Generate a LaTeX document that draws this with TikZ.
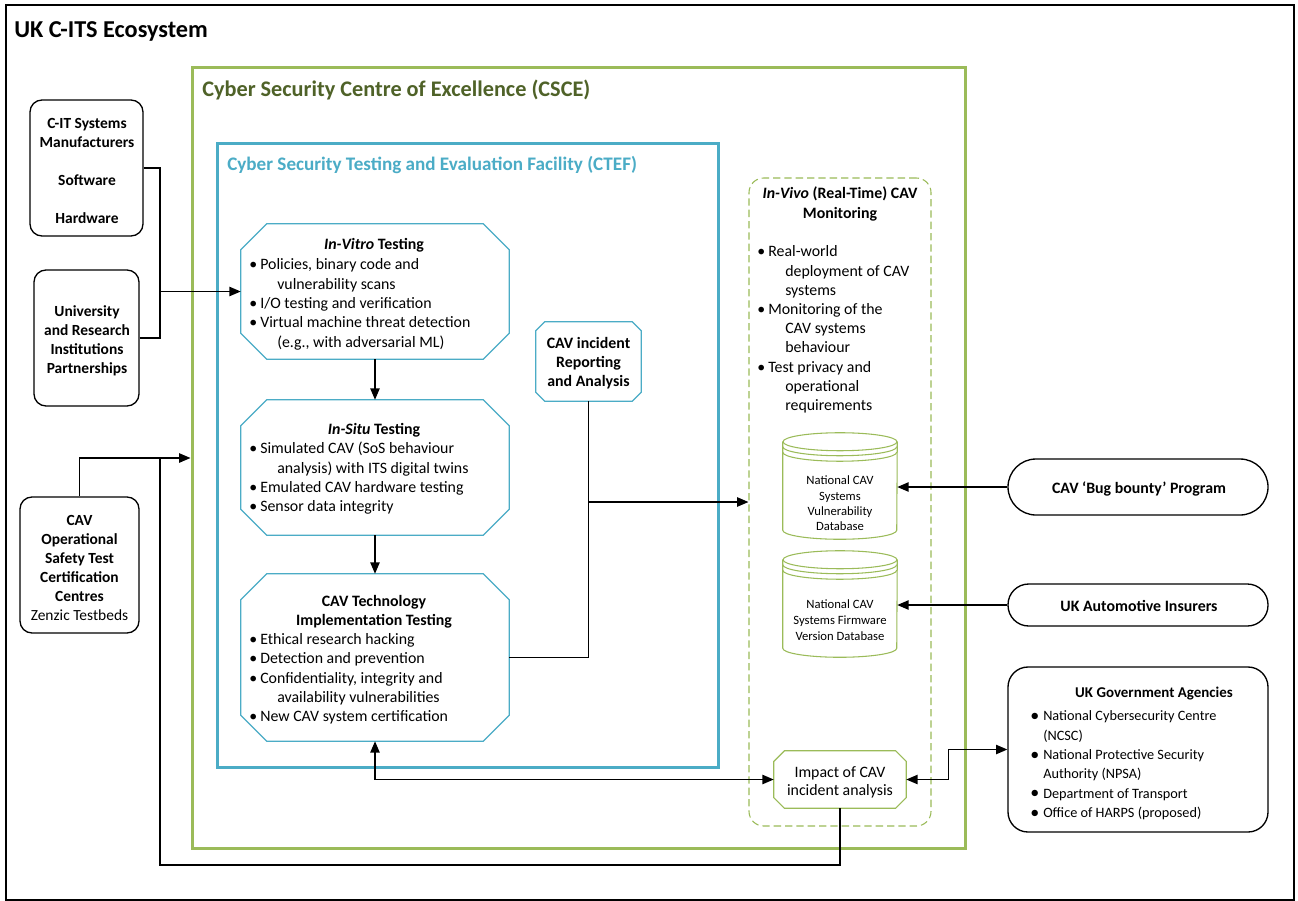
\documentclass[tikz,border=0pt]{standalone}
\usepackage{fontspec}
\setmainfont{Carlito}
\usetikzlibrary{arrows.meta,fit,calc}
\definecolor{csceg}{RGB}{155,187,89}
\definecolor{cscedark}{RGB}{79,98,40}
\definecolor{ctefb}{RGB}{75,172,198}
\newcommand{\fsz}[2]{\fontsize{#1}{#2}\selectfont}
\newcommand{\bitem}[1]{\makebox[8.25pt][l]{\textbullet}#1}
\newcommand{\bcont}[1]{\hspace*{21pt}#1}
\newcommand{\gitem}[1]{\makebox[9.75pt][l]{\raisebox{-0.3pt}{\fontsize{13.5pt}{14pt}\selectfont\textbullet}}#1}
\newcommand{\gcont}[1]{\hspace*{9.75pt}#1}
\newcommand{\octo}[3][]{%
  \draw[#1] ([xshift=#3]#2.north west) -- ([xshift=-#3]#2.north east) -- ([yshift=-#3]#2.north east)
   -- ([yshift=#3]#2.south east) -- ([xshift=-#3]#2.south east) -- ([xshift=#3]#2.south west)
   -- ([yshift=#3]#2.south west) -- ([yshift=-#3]#2.north west) -- cycle;}
\newcommand{\dbdraw}[1]{%
  \draw[dbs] ($(#1.north)+(0,9)$) ellipse [x radius=42.75pt,y radius=6.75pt];
  \draw[dbs] ($(#1.north west)+(0,9)$) -- ($(#1.south west)+(0,-9)$)
     arc[start angle=180,end angle=360,x radius=42.75pt,y radius=6.75pt] -- ($(#1.north east)+(0,9)$);
  \draw[dbs] ($(#1.north west)+(0,14)$) arc[start angle=180,end angle=360,x radius=42.75pt,y radius=6.75pt];
  \draw[dbs] ($(#1.north west)+(0,19.5)$) arc[start angle=180,end angle=360,x radius=42.75pt,y radius=6.75pt];}
\begin{document}
\begin{tikzpicture}[x=0.75pt,y=-0.75pt,
  txt/.style={inner sep=0pt, font=\fsz{11.9pt}{14.5pt}},
  btxt/.style={inner sep=0pt, font=\fsz{11.9pt}{14.5pt}\bfseries},
  ltxt/.style={inner sep=0pt, align=center, font=\fsz{11.6pt}{14.25pt}\bfseries},
  lbox/.style={draw, line width=1pt, rounded corners=9pt, inner sep=0pt},
  rbox/.style={draw, line width=1pt, inner sep=0pt},
  area/.style={inner sep=0pt},
  octb/.style={draw=ctefb, line width=1pt},
  octg/.style={draw=csceg, line width=0.9pt},
  dbs/.style={draw=csceg, line width=0.8pt},
  conn/.style={line width=1pt},
  arr/.style={line width=1pt, -{Triangle[length=8.5pt,width=7pt]}},
  darr/.style={line width=1pt, {Triangle[length=8.5pt,width=7pt]}-{Triangle[length=8.5pt,width=7pt]}}
]
\useasboundingbox (0,0) rectangle (1298,900);
\fill[white] (0,0) rectangle (1298,900);

% frames
\node[draw, line width=2.2pt, area, fit={(6,5) (1294,900)}] (frame) {};
\node[btxt, anchor=west, font=\fsz{18.2pt}{21pt}\bfseries] (ecot) at (14,31) {UK C-ITS Ecosystem};

\node[draw=csceg, line width=2.25pt, area, fit={(192,67) (965,848)}] (csce) {};
\node[btxt, anchor=west, text=cscedark, font=\fsz{16.7pt}{20pt}\bfseries] (cscet) at (202,90) {Cyber Security Centre of Excellence (CSCE)};

\node[draw=ctefb, line width=2.25pt, area, fit={(217,143) (718,767)}] (ctef) {};
\node[btxt, anchor=west, text=ctefb, font=\fsz{14.35pt}{17pt}\bfseries] (ctoft) at (227,165) {Cyber Security Testing and Evaluation Facility (CTEF)};

% left boxes
\node[lbox, fit={(30,100) (143,236)}] (mfr) {};
\node[ltxt] (mfrt) at (87,170.5) {C-IT Systems\\Manufacturers\\[14.25pt]Software\\[14.25pt]Hardware};
\node[lbox, fit={(34,270) (139,406)}] (uni) {};
\node[ltxt] (unit) at (87,340.5) {University\\and Research\\Institutions\\Partnerships};
\node[lbox, fit={(20,497) (139,633)}] (cert) {};
\node[ltxt] (certt) at (79.5,567.5) {CAV\\Operational\\Safety Test\\Certification\\Centres\\\mdseries Zenzic Testbeds};

% in-vitro
\node[area, fit={(241,224) (509,359)}] (vitro) {};
\octo[octb]{vitro}{19.5pt}
\node[btxt] (vitrot) at (374,245.5) {\textit{In-Vitro} Testing};
\node[txt, anchor=west, align=left] (vitrob) at (249,304.5) {\bitem{Policies, binary code and}\\\bcont{vulnerability scans}\\\bitem{I/O testing and verification}\\\bitem{Virtual machine threat detection}\\\bcont{(e.g., with adversarial ML)}};

% in-situ
\node[area, fit={(241,400) (509,535)}] (situ) {};
\octo[octb]{situ}{19.5pt}
\node[btxt] (situt) at (374,430.5) {\textit{In-Situ} Testing};
\node[txt, anchor=west, align=left] (situb) at (249,478.5) {\bitem{Simulated CAV (SoS behaviour}\\\bcont{analysis) with ITS digital twins}\\\bitem{Emulated CAV hardware testing}\\\bitem{Sensor data integrity}};

% CAV technology
\node[area, fit={(241,574) (509,741)}] (tech) {};
\octo[octb]{tech}{19.5pt}
\node[btxt, align=center] (techt) at (374,611.5) {CAV Technology\\Implementation Testing};
\node[txt, anchor=west, align=left] (techb) at (249,679) {\bitem{Ethical research hacking}\\\bitem{Detection and prevention}\\\bitem{Confidentiality, integrity and}\\\bcont{availability vulnerabilities}\\\bitem{New CAV system certification}};

% incident
\node[area, fit={(536,322) (641,401)}] (inc) {};
\octo[octb]{inc}{6.75pt}
\node[btxt, align=center, font=\fsz{11.9pt}{14.25pt}\bfseries] (inct) at (588.5,363) {CAV incident\\Reporting\\and Analysis};

% in-vivo
\node[draw=csceg, line width=0.8pt, dash pattern=on 5.5pt off 3pt, rounded corners=11pt, area, fit={(749,178) (931,826)}] (vivo) {};
\node[btxt, align=center] (vivot) at (840,204) {\textit{In-Vivo} (Real-Time) CAV\\Monitoring};
\node[txt, anchor=west, align=left, font=\fsz{11.9pt}{14.4pt}] (vivob) at (757,329.5) {\bitem{Real-world}\\\bcont{deployment of CAV}\\\bcont{systems}\\\bitem{Monitoring of the}\\\bcont{CAV systems}\\\bcont{behaviour}\\\bitem{Test privacy and}\\\bcont{operational}\\\bcont{requirements}};

% databases
\node[area, fit={(783,433) (897,539)}] (db1) {};
\dbdraw{db1}
\node[txt, align=center, font=\fsz{9.5pt}{11.5pt}] (db1t) at (840,503.5) {National CAV\\Systems\\Vulnerability\\Database};
\node[area, fit={(783,551) (897,657)}] (db2) {};
\dbdraw{db2}
\node[txt, align=center, font=\fsz{9.5pt}{11.8pt}] (db2t) at (840,620) {National CAV\\Systems Firmware\\Version Database};

% impact
\node[area, fit={(774,751) (906,808)}] (imp) {};
\octo[octg]{imp}{8pt}
\node[txt, align=center, font=\fsz{11.9pt}{13.5pt}] (impt) at (840,782.5) {Impact of CAV\\incident analysis};

% right boxes
\node[rbox, rounded corners=21pt, fit={(1008,459) (1268,515)}] (bug) {};
\node[btxt] (bugt) at (1139,488.5) {CAV ‘Bug bounty’ Program};
\node[rbox, rounded corners=15.5pt, fit={(1008,584) (1268,626)}] (ins) {};
\node[btxt] (inst) at (1139,605.5) {UK Automotive Insurers};
\node[rbox, rounded corners=15pt, fit={(1008,667) (1268,832)}] (gov) {};
\node[btxt, font=\fsz{11.2pt}{14pt}\bfseries] (govt) at (1154,694) {UK Government Agencies};
\node[txt, anchor=west, align=left, font=\fsz{10.7pt}{14.5pt}] (govb) at (1030,765.5) {\gitem{National Cybersecurity Centre}\\\gcont{(NCSC)}\\\gitem{National Protective Security}\\\gcont{Authority (NPSA)}\\\gitem{Department of Transport}\\\gitem{Office of HARPS (proposed)}};

% connectors
\coordinate (j1) at (160,291.5);
\draw[conn] (mfr.east) -| (j1);
\draw[conn] (uni.east) -| (j1);
\draw[arr] (j1) -- (vitro.west);

\coordinate (j2) at (160,458);
\coordinate (j4) at (160,865);
\draw[arr] (cert.north) |- (csce.west |- j2);
\draw[conn] (imp.south) |- (j4) -- (j2);

\draw[arr] (vitro.south) -- (situ.north);
\draw[arr] (situ.south) -- (tech.north);
\draw[conn] (tech.east) -| (inc.south);
\coordinate (j5) at (588.5,502);
\draw[arr] (j5) -- (vivo.west |- j5);

\draw[arr] (bug.west) -- (db1.east |- bug.west);
\draw[arr] (ins.west) -- (db2.east |- ins.west);
\draw[darr] (tech.south) |- (imp.west);
\draw[darr] (imp.east) -- ++(42,0) |- (gov.west);
\end{tikzpicture}
\end{document}
